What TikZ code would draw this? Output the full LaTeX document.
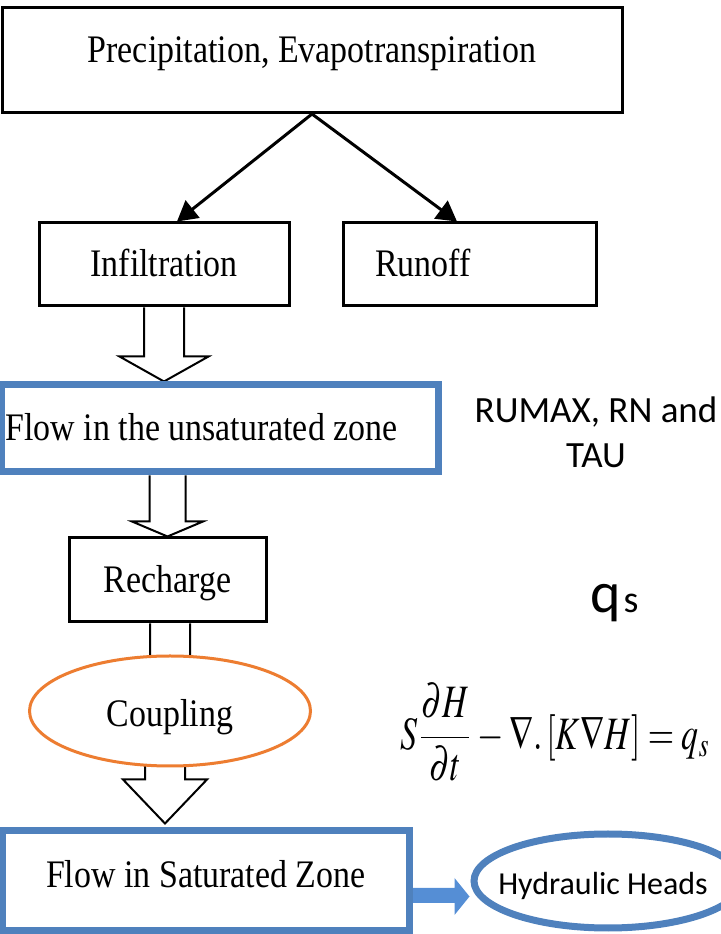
\documentclass[tikz,border=0pt]{standalone}
\usepackage{mathptmx}
\usepackage{fontspec}
\usepackage{graphicx}
\usetikzlibrary{arrows.meta,shapes.geometric,calc}
\newfontfamily\boxfont{Liberation Serif}[FakeStretch=0.87]
\newfontfamily\calfont{Carlito}
\definecolor{boxblue}{RGB}{79,129,189}
\definecolor{arrowblue}{RGB}{85,142,213}
\definecolor{cplorange}{RGB}{237,125,49}
\pgfdeclarelayer{bg}
\pgfsetlayers{bg,main}
% hollow block arrow: #1 start, #2 tip, #3 shaft half width, #4 head half width, #5 head length
\newcommand\hollowarrow[5]{%
  \draw[hollow] let \p1=(#1), \p2=(#2) in
    (\x2-#3pt,\y1) -- (\x2-#3pt,\y2+#5pt) -- (\x2-#4pt,\y2+#5pt) -- (\x2,\y2)
    -- (\x2+#4pt,\y2+#5pt) -- (\x2+#3pt,\y2+#5pt) -- (\x2+#3pt,\y1);}
\begin{document}
\begin{tikzpicture}[x=1pt,y=1pt,
  blackbox/.style={draw=black, line width=3pt, fill=white, inner sep=0pt,
    font=\boxfont\fontsize{39}{42}\selectfont, text height=25pt, text depth=0pt},
  bluebox/.style={blackbox, draw=boxblue, line width=7pt},
  flow/.style={draw=black, line width=3pt, -{Triangle[length=20pt,width=22pt]}},
  hollow/.style={draw=black, line width=2pt, fill=white, line join=miter},
  oval/.style={ellipse, fill=white, inner sep=0pt}]
\useasboundingbox (0,0) rectangle (720,934);

\node[blackbox, minimum width=620pt, minimum height=105pt, text depth=20pt] (top) at (312,874) {Precipitation, Evapotranspiration};
\node[blackbox, minimum width=250pt, minimum height=83pt] (infil) at (164,669.5) {Infiltration};
\node[blackbox, minimum width=253pt, minimum height=83pt, text width=189pt, inner xsep=32pt, align=left] (runoff) at (469.5,669.5) {Runoff};
\node[bluebox, minimum width=437pt, minimum height=87pt, text width=428pt, inner xsep=4.5pt, align=left] (unsat) at (219.5,505.5) {\spaceskip=0pt Flow in the unsaturated zone};
\node[blackbox, minimum width=197pt, minimum height=84pt] (rech) at (167.5,354) {Recharge};
\node[oval, draw=cplorange, line width=3pt, minimum width=281pt, minimum height=110pt,
  font=\boxfont\fontsize{39}{42}\selectfont, text height=32pt, text depth=0pt] (coup) at (170,223) {\makebox[0pt]{Coupling}};
\node[bluebox, minimum width=406.5pt, minimum height=100pt, text depth=11pt] (sat) at (205.75,53) {Flow in Saturated Zone};
\node[oval, draw=boxblue, line width=7pt, minimum width=268pt, minimum height=94pt,
  font=\calfont\fontsize{32}{36}\selectfont, text height=28pt, text depth=0pt] (hyd) at (608,53) {\makebox[0pt]{Hydraulic Heads\hspace{10pt}}};

\node[inner sep=0pt, align=center, font=\calfont\fontsize{37}{45}\selectfont] (params) at (596,502) {RUMAX, RN and\\TAU};
\node[anchor=base west, inner sep=0pt, font=\calfont] (qs) at (590,321) {\fontsize{58}{60}\selectfont q\hspace{3pt}\fontsize{38}{40}\selectfont s};
\node[anchor=west, inner sep=0pt] (eq) at (400,201.5) {\resizebox{310pt}{66pt}{$\displaystyle S\frac{\partial H}{\partial t}-\nabla.\left[K\nabla H\right]=q_s$}};

\draw[flow] (top.south) -- ($(infil.north)+(13,0)$);
\draw[flow] (top.south) -- ($(runoff.north)+(-12.5,0)$);

\begin{pgfonlayer}{bg}
  \hollowarrow{infil.south}{unsat.north -| infil.south}{20}{44.5}{25}
  \hollowarrow{unsat.south -| rech.north}{rech.north}{18}{35.5}{15}
  \hollowarrow{rech.south}{coup.center}{20}{40}{25}
  \hollowarrow{$(coup.center)+(-5,0)$}{$(sat.north)+(-40.75,4)$}{20}{42}{44}
  \fill[arrowblue] let \p1=(sat.east), \p2=(hyd.west) in
    (\x1,\y1-7pt) -- (\x2-16pt,\y1-7pt) -- (\x2-16pt,\y1+3pt) -- (\x2-1pt,\y1-15.5pt)
    -- (\x2-16pt,\y1-34pt) -- (\x2-16pt,\y1-22pt) -- (\x1,\y1-22pt) -- cycle;
\end{pgfonlayer}
\end{tikzpicture}
\end{document}
